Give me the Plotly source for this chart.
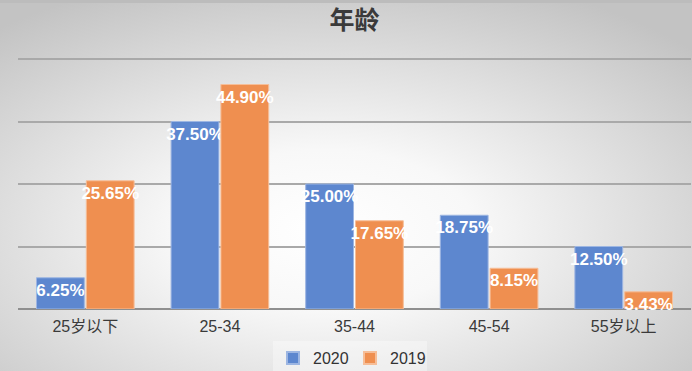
import base64
import plotly.graph_objects as go

categories = ["25岁以下", "25-34", "35-44", "45-54", "55岁以上"]
values_2020 = [6.25, 37.50, 25.00, 18.75, 12.50]
values_2019 = [25.65, 44.90, 17.65, 8.15, 3.43]
series_names = ["2020", "2019"]
y_ticks = [0, 12.5, 25, 37.5, 50]

W, H = 692, 371
ML, MR, MT, MB = 18, 1, 56, 62
PW, PH = W - ML - MR, H - MT - MB
YMAX = 50 * PH / 250.0

LATIN = "Liberation Sans, Arial, Helvetica, Noto Sans CJK SC, sans-serif"
CJK = "Noto Sans CJK SC, Liberation Sans, sans-serif"

fig = go.Figure()
for name, vals, fill, edge in [
    (series_names[0], values_2020, "#5D87CF", "#9DB6E2"),
    (series_names[1], values_2019, "#EF8F50", "#F6BE98"),
]:
    fig.add_trace(go.Bar(
        x=categories, y=vals, name=name,
        marker=dict(color=fill, line=dict(color=edge, width=1)),
        text=[f"{v:.2f}%" for v in vals],
        textposition="inside", insidetextanchor="end",
        textangle=0, constraintext="none",
        textfont=dict(family=LATIN, size=17, color="white", weight="bold"),
        cliponaxis=False,
    ))

svg = (
    f'<svg xmlns="http://www.w3.org/2000/svg" width="{W}" height="{H}" '
    f'viewBox="0 0 {W} {H}" preserveAspectRatio="none"><defs>'
    '<radialGradient id="g" cx="0.47" cy="0.62" r="0.72">'
    '<stop offset="0" stop-color="#ffffff"/>'
    '<stop offset="0.3" stop-color="#f8f8f8"/>'
    '<stop offset="1" stop-color="#c3c3c3"/>'
    '</radialGradient></defs>'
    f'<rect width="{W}" height="{H}" fill="url(#g)"/></svg>'
)
src = "data:image/svg+xml;base64," + base64.b64encode(svg.encode()).decode()

fig.update_layout(
    width=W, height=H,
    margin=dict(l=ML, r=MR, t=MT, b=MB, autoexpand=False),
    paper_bgcolor="#e6e6e6",
    plot_bgcolor="rgba(0,0,0,0)",
    barmode="group", bargap=0.26, bargroupgap=0.04,
    title=dict(text="<b>年龄</b>", x=0.5, xref="paper", xanchor="center",
               y=1 - 20 / H, yref="container", yanchor="middle",
               font=dict(family=CJK, size=25, color="#3a3a3a")),
    showlegend=True,
    legend=dict(orientation="h", x=(350 - ML) / PW, xanchor="center",
                y=(-(358 - (MT + PH))) / PH, yanchor="middle",
                bgcolor="rgba(255,255,255,0.35)",
                font=dict(family=LATIN, size=16, color="#333333"),
                itemsizing="constant", entrywidth=32),
    images=[dict(source=src, xref="paper", yref="paper",
                 x=-ML / PW, y=1 + MT / PH, sizex=W / PW, sizey=H / PH,
                 xanchor="left", yanchor="top", sizing="stretch", layer="below")],
    shapes=[dict(type="line", xref="paper", yref="paper",
                 x0=-ML / PW, x1=1 + MR / PW, y0=1 + (MT - 1.5) / PH, y1=1 + (MT - 1.5) / PH,
                 line=dict(color="#bcbcbc", width=3))],
    xaxis=dict(showgrid=False, ticks="", showline=False, automargin=False,
               ticklabelstandoff=6,
               tickfont=dict(family=LATIN, size=16, color="#3a3a3a")),
    yaxis=dict(range=[0, YMAX], tickvals=y_ticks, showticklabels=False,
               automargin=False,
               showgrid=True, gridcolor="#a9a9a9", gridwidth=1.5,
               zeroline=True, zerolinecolor="#8f8f8f", zerolinewidth=2,
               showline=False, ticks=""),
    font=dict(family=LATIN),
)

fig.write_html(
    "out.html",
    config={"displayModeBar": False},
    post_script="document.body.style.margin='0';document.body.style.overflow='hidden';",
)
